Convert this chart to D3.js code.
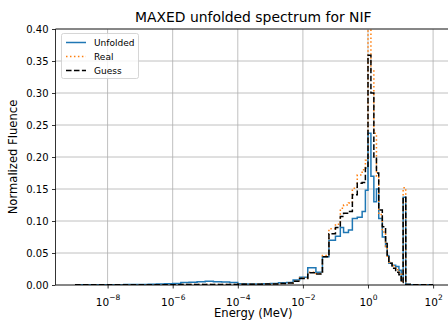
<!DOCTYPE html>
<html>
<head>
<meta charset="utf-8">
<script src="https://cdn.jsdelivr.net/npm/d3@7"></script>
<style>
  body { margin: 0; background: #fff; }
  svg { display: block; }
  text { font-family: "DejaVu Sans", sans-serif; fill: #000; }
</style>
</head>
<body>
<svg id="chart" width="448" height="320"></svg>
<script>
// Bin edges as log10(E / MeV)
const edgeExponents = [
  -9.0, -8.75, -8.5, -8.25, -8.0, -7.75, -7.5, -7.25, -7.0, -6.75, -6.5, -6.25,
  -6.0, -5.75, -5.5, -5.25, -5.0, -4.75, -4.5, -4.25, -4.0, -3.75, -3.5, -3.25,
  -3.0, -2.75, -2.5, -2.3, -2.1, -1.85, -1.6, -1.4, -1.2, -1.0, -0.85, -0.75,
  -0.6, -0.48, -0.33, -0.18, -0.08, 0.0, 0.09, 0.18, 0.26, 0.33, 0.44, 0.54,
  0.59, 0.64, 0.74, 0.85, 0.95, 1.02, 1.08, 1.16, 1.3, 1.6, 2.0
];

// Normalized fluence per bin
const unfolded = [
  0.0003, 0.0003, 0.0004, 0.0004, 0.0005, 0.0005, 0.0006, 0.0007, 0.0009, 0.0012, 0.0016, 0.0020,
  0.0025, 0.0040, 0.0042, 0.0052, 0.0060, 0.0052, 0.0046, 0.0040, 0.0020, 0.0015, 0.0015, 0.0020,
  0.0025, 0.0035, 0.004, 0.008, 0.012, 0.027, 0.020, 0.044, 0.070, 0.076, 0.090, 0.082,
  0.086, 0.104, 0.106, 0.115, 0.148, 0.237, 0.170, 0.130, 0.150, 0.104, 0.075, 0.060,
  0.046, 0.034, 0.031, 0.029, 0.023, 0.008, 0.137, 0.001, 0.0005, 0.0003
];
const real = [
  0.0002, 0.0002, 0.0002, 0.0002, 0.0003, 0.0003, 0.0003, 0.0003, 0.0004, 0.0004, 0.0004, 0.0005,
  0.0005, 0.0006, 0.0006, 0.0007, 0.0007, 0.0008, 0.0008, 0.0009, 0.0010, 0.0011, 0.0012, 0.0014,
  0.0017, 0.0022, 0.003, 0.006, 0.011, 0.020, 0.018, 0.046, 0.088, 0.095, 0.120, 0.125,
  0.128, 0.151, 0.172, 0.180, 0.195, 0.420, 0.336, 0.237, 0.170, 0.110, 0.083, 0.060,
  0.045, 0.036, 0.030, 0.024, 0.020, 0.006, 0.152, 0.0008, 0.0005, 0.0003
];
const guess = [
  0.0002, 0.0002, 0.0002, 0.0002, 0.0003, 0.0003, 0.0003, 0.0003, 0.0004, 0.0004, 0.0004, 0.0005,
  0.0005, 0.0006, 0.0006, 0.0007, 0.0007, 0.0008, 0.0008, 0.0009, 0.0010, 0.0011, 0.0012, 0.0014,
  0.0017, 0.0022, 0.003, 0.006, 0.010, 0.019, 0.017, 0.044, 0.080, 0.090, 0.107, 0.112,
  0.115, 0.141, 0.159, 0.160, 0.183, 0.359, 0.300, 0.200, 0.175, 0.117, 0.091, 0.065,
  0.044, 0.034, 0.026, 0.020, 0.016, 0.004, 0.137, 0.0008, 0.0005, 0.0003
];

const xTickExponents = [-8, -6, -4, -2, 0, 2];
const yTicks = [0.00, 0.05, 0.10, 0.15, 0.20, 0.25, 0.30, 0.35, 0.40];
const xLimitExponents = [-9.6, 2.55];
const yLimits = [0, 0.40];

const seriesList = [
  { name: "Unfolded", values: unfolded, color: "#1f77b4", dash: null },
  { name: "Real", values: real, color: "#ff7f0e", dash: "1.5,2.475" },
  { name: "Guess", values: guess, color: "#000000", dash: "5.55,2.4" }
];

const plot = { left: 55.5, right: 451, top: 29, bottom: 285 };
const svg = d3.select("#chart");

const x = d3.scaleLog()
  .domain(xLimitExponents.map(e => Math.pow(10, e)))
  .range([plot.left, plot.right]);
const y = d3.scaleLinear().domain(yLimits).range([plot.bottom, plot.top]);

// clip region for the data lines
svg.append("defs").append("clipPath").attr("id", "plot-clip")
  .append("rect")
  .attr("x", plot.left).attr("y", plot.top)
  .attr("width", plot.right - plot.left).attr("height", plot.bottom - plot.top);

// grid
const grid = svg.append("g").attr("stroke", "#b0b0b0").attr("stroke-width", 0.8);
xTickExponents.forEach(e => {
  const px = x(Math.pow(10, e));
  grid.append("line").attr("x1", px).attr("x2", px).attr("y1", plot.top).attr("y2", plot.bottom);
});
yTicks.forEach(t => {
  grid.append("line").attr("x1", plot.left).attr("x2", plot.right).attr("y1", y(t)).attr("y2", y(t));
});

// step lines: each bin value holds from its lower edge to its upper edge
const energies = edgeExponents.map(e => Math.pow(10, e));
const stepLine = d3.line()
  .x(d => x(d[0]))
  .y(d => y(d[1]))
  .curve(d3.curveStepAfter);

const lines = svg.append("g").attr("clip-path", "url(#plot-clip)");
seriesList.forEach(s => {
  const pts = s.values.map((v, i) => [energies[i], v]);
  pts.push([energies[energies.length - 1], s.values[s.values.length - 1]]);
  lines.append("path")
    .attr("d", stepLine(pts))
    .attr("fill", "none")
    .attr("stroke", s.color)
    .attr("stroke-width", 1.5)
    .attr("stroke-dasharray", s.dash)
    .attr("stroke-linejoin", "miter");
});

// axes
const yAxis = d3.axisLeft(y).tickValues(yTicks).tickFormat(d3.format(".2f"))
  .tickSize(3.5).tickPadding(3.5);
const gy = svg.append("g").attr("transform", `translate(${plot.left},0)`).call(yAxis);
gy.select(".domain").remove();
gy.selectAll("text").attr("font-size", 10).attr("font-family", "DejaVu Sans");
gy.selectAll("line").attr("stroke-width", 0.8);

const xAxis = d3.axisBottom(x)
  .tickValues(xTickExponents.map(e => Math.pow(10, e)))
  .tickFormat(() => "")
  .tickSize(3.5).tickPadding(3.5);
const gx = svg.append("g").attr("transform", `translate(0,${plot.bottom})`).call(xAxis);
gx.select(".domain").remove();
gx.selectAll("line").attr("stroke-width", 0.8);
gx.selectAll(".tick").each(function (d, i) {
  const t = d3.select(this).select("text")
    .attr("font-size", 10.5).attr("font-family", "DejaVu Sans")
    .attr("dy", null).attr("y", 20.5);
  t.text(null);
  t.append("tspan").text("10");
  t.append("tspan").attr("dy", -5.5).attr("font-size", 7.5)
    .text((xTickExponents[i] < 0 ? "\u2212" : "") + Math.abs(xTickExponents[i]));
});

// spines
const spines = svg.append("g").attr("stroke", "#000").attr("stroke-width", 0.8).attr("fill", "none");
spines.append("line").attr("x1", plot.left).attr("x2", plot.left).attr("y1", plot.top).attr("y2", plot.bottom);
spines.append("line").attr("x1", plot.left).attr("x2", plot.right).attr("y1", plot.bottom).attr("y2", plot.bottom);
spines.append("line").attr("x1", plot.left).attr("x2", plot.right).attr("y1", plot.top).attr("y2", plot.top);
spines.append("line").attr("x1", plot.right).attr("x2", plot.right).attr("y1", plot.top).attr("y2", plot.bottom);

// title and axis labels
svg.append("text")
  .attr("x", (plot.left + plot.right) / 2).attr("y", 22)
  .attr("text-anchor", "middle").attr("font-size", 13.9)
  .text("MAXED unfolded spectrum for NIF");
svg.append("text")
  .attr("x", (plot.left + plot.right) / 2).attr("y", 317)
  .attr("text-anchor", "middle").attr("font-size", 11.6)
  .text("Energy (MeV)");
svg.append("text")
  .attr("transform", `translate(17,${(plot.top + plot.bottom) / 2}) rotate(-90)`)
  .attr("text-anchor", "middle").attr("font-size", 11.6)
  .text("Normalized Fluence");

// legend
const legend = svg.append("g").attr("transform", "translate(61.5,33.5)");
legend.append("rect")
  .attr("width", 77).attr("height", 45).attr("rx", 2)
  .attr("fill", "#fff").attr("fill-opacity", 0.8)
  .attr("stroke", "#cccccc").attr("stroke-width", 0.8);
seriesList.forEach((s, i) => {
  const ly = 9 + i * 14;
  legend.append("line")
    .attr("x1", 4.5).attr("x2", 24.5).attr("y1", ly).attr("y2", ly)
    .attr("stroke", s.color).attr("stroke-width", 1.5)
    .attr("stroke-dasharray", s.dash);
  legend.append("text")
    .attr("x", 32.5).attr("y", ly + 3.2)
    .attr("font-size", 9)
    .text(s.name);
});
</script>
</body>
</html>
